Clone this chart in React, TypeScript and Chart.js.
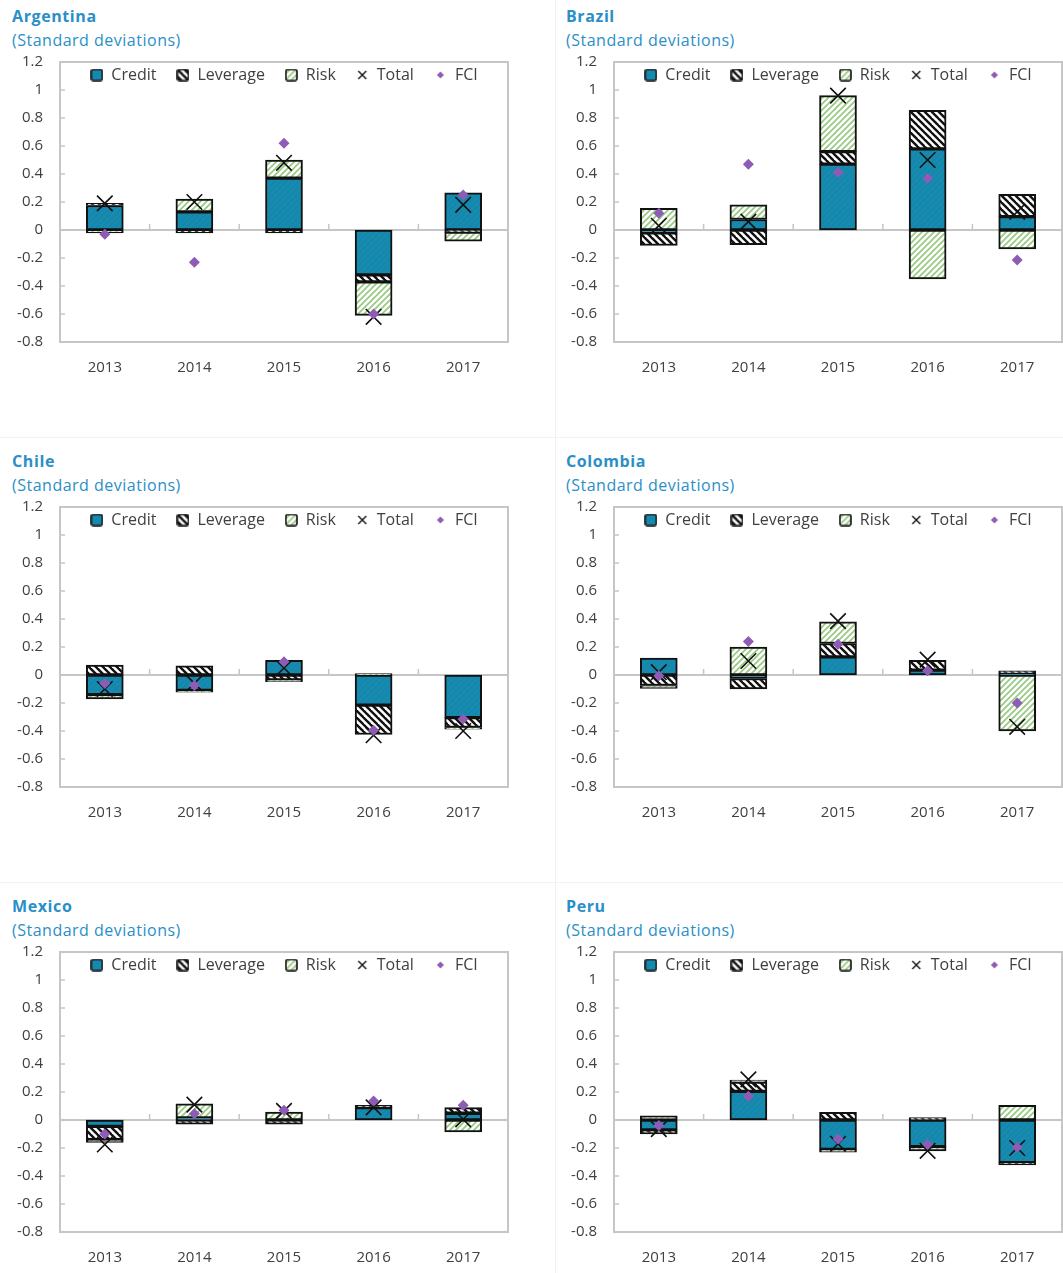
import React, { useEffect, useRef } from "react";
import { Chart, registerables } from "chart.js";

Chart.register(...registerables);

const years = ["2013", "2014", "2015", "2016", "2017"];
const yTicks = [1.2, 1, 0.8, 0.6, 0.4, 0.2, 0, -0.2, -0.4, -0.6, -0.8];
const seriesNames = ["Credit", "Leverage", "Risk", "Total", "FCI"];

const argentinaCredit = [0.175, 0.13, 0.37, -0.32, 0.265];
const argentinaLeverage = [0.015, -0.02, -0.02, -0.05, -0.015];
const argentinaRisk = [-0.02, 0.09, 0.13, -0.24, -0.065];
const argentinaTotal = [0.19, 0.2, 0.48, -0.62, 0.18];
const argentinaFci = [-0.03, -0.23, 0.62, -0.6, 0.25];

const brazilCredit = [-0.02, 0.075, 0.47, 0.58, 0.095];
const brazilLeverage = [-0.09, -0.105, 0.09, 0.275, 0.16];
const brazilRisk = [0.155, 0.105, 0.4, -0.35, -0.135];
const brazilTotal = [0.03, 0.06, 0.96, 0.5, 0.13];
const brazilFci = [0.12, 0.47, 0.41, 0.37, -0.215];

const chileCredit = [-0.14, -0.11, 0.105, -0.215, -0.305];
const chileLeverage = [0.07, 0.065, -0.035, -0.21, -0.07];
const chileRisk = [-0.03, -0.012, -0.013, 0.01, -0.012];
const chileTotal = [-0.1, -0.06, 0.05, -0.43, -0.4];
const chileFci = [-0.06, -0.075, 0.095, -0.395, -0.315];

const colombiaCredit = [0.12, -0.025, 0.13, 0.035, 0.01];
const colombiaLeverage = [-0.075, -0.075, 0.095, 0.07, 0.02];
const colombiaRisk = [-0.02, 0.2, 0.155, 0.0, -0.4];
const colombiaTotal = [0.02, 0.1, 0.385, 0.11, -0.37];
const colombiaFci = [-0.005, 0.24, 0.22, 0.03, -0.2];

const mexicoCredit = [-0.045, 0.015, 0.0, 0.088, 0.048];
const mexicoLeverage = [-0.095, -0.03, -0.03, 0.017, 0.04];
const mexicoRisk = [-0.02, 0.1, 0.057, 0.0, -0.085];
const mexicoTotal = [-0.175, 0.11, 0.065, 0.09, 0.005];
const mexicoFci = [-0.1, 0.045, 0.07, 0.135, 0.105];

const peruCredit = [-0.07, 0.205, -0.21, -0.19, -0.305];
const peruLeverage = [-0.03, 0.065, 0.055, 0.017, -0.015];
const peruRisk = [0.03, 0.015, -0.02, -0.03, 0.105];
const peruTotal = [-0.065, 0.29, -0.17, -0.22, -0.2];
const peruFci = [-0.04, 0.17, -0.135, -0.175, -0.195];

const TEAL = "#168BAF";
const PURPLE = "#8E5CB4";
const GREEN = "#95C97E";
const TITLE_BLUE = "#2A8FC8";
const TEXT = "#404040";
const FRAME = "#C6C6C6";
const FONT = "'Open Sans', 'Noto Sans', sans-serif";
const LEGEND_PAD = 20;
const LEGEND_FONT = 16;

function makeCanvas(w: number, h: number) {
  const c = document.createElement("canvas");
  c.width = w;
  c.height = h;
  return c;
}

function creditPattern(ctx: CanvasRenderingContext2D) {
  const s = 6;
  const c = makeCanvas(s, s);
  const g = c.getContext("2d")!;
  g.fillStyle = TEAL;
  g.fillRect(0, 0, s, s);
  g.strokeStyle = "#1482A4";
  g.lineWidth = 1;
  for (let k = -1; k <= 1; k++) {
    g.beginPath();
    g.moveTo(k * s - 1, s + 1);
    g.lineTo(k * s + s + 1, -1);
    g.stroke();
  }
  return ctx.createPattern(c, "repeat")!;
}

function leveragePattern(ctx: CanvasRenderingContext2D) {
  const s = 7;
  const c = makeCanvas(s, s);
  const g = c.getContext("2d")!;
  g.fillStyle = "#ffffff";
  g.fillRect(0, 0, s, s);
  g.strokeStyle = "#111111";
  g.lineWidth = 2.4;
  for (let k = -1; k <= 1; k++) {
    g.beginPath();
    g.moveTo(k * s - 1, -1);
    g.lineTo(k * s + s + 1, s + 1);
    g.stroke();
  }
  return ctx.createPattern(c, "repeat")!;
}

function riskPattern(ctx: CanvasRenderingContext2D) {
  const s = 6;
  const c = makeCanvas(s, s);
  const g = c.getContext("2d")!;
  g.fillStyle = "#ffffff";
  g.fillRect(0, 0, s, s);
  g.strokeStyle = GREEN;
  g.lineWidth = 1.6;
  for (let k = -1; k <= 1; k++) {
    g.beginPath();
    g.moveTo(k * s - 1, s + 1);
    g.lineTo(k * s + s + 1, -1);
    g.stroke();
  }
  return ctx.createPattern(c, "repeat")!;
}

function boxIcon(fill: (g: CanvasRenderingContext2D) => CanvasPattern) {
  const c = makeCanvas(13, 13);
  const g = c.getContext("2d")!;
  g.fillStyle = fill(g);
  g.beginPath();
  g.roundRect(1, 1, 11, 11, 2);
  g.fill();
  g.strokeStyle = "#111";
  g.lineWidth = 1.6;
  g.stroke();
  return c;
}

function crossIcon() {
  const c = makeCanvas(12, 12);
  const g = c.getContext("2d")!;
  g.strokeStyle = "#111";
  g.lineWidth = 1.4;
  g.beginPath();
  g.moveTo(2, 2);
  g.lineTo(10, 10);
  g.moveTo(10, 2);
  g.lineTo(2, 10);
  g.stroke();
  return c;
}

function diamondIcon() {
  const c = makeCanvas(12, 12);
  const g = c.getContext("2d")!;
  g.fillStyle = PURPLE;
  g.beginPath();
  g.moveTo(6, 2.5);
  g.lineTo(9.5, 6);
  g.lineTo(6, 9.5);
  g.lineTo(2.5, 6);
  g.closePath();
  g.fill();
  return c;
}

const framePlugin = {
  id: "frameTicks",
  beforeLayout(chart: any) {
    const lg = chart.legend;
    if (lg) lg.isHorizontal = () => true;
  },
  afterLayout(chart: any) {
    const lg = chart.legend;
    const a = chart.chartArea;
    if (lg) {
      lg.left = a.left;
      lg.right = a.right;
      lg.width = a.width;
      lg.top = a.top + 13 - (LEGEND_PAD + LEGEND_FONT / 2);
      lg.bottom = lg.top + lg.height;
    }
  },
  beforeDatasetsDraw(chart: any) {
    const { ctx, chartArea: a, scales } = chart;
    const y = scales.y;
    const x = scales.x;
    const z = y.getPixelForValue(0);
    ctx.save();
    ctx.strokeStyle = FRAME;
    ctx.lineWidth = 2;
    ctx.beginPath();
    ctx.moveTo(a.left, z);
    ctx.lineTo(a.right, z);
    ctx.stroke();
    ctx.lineWidth = 1.5;
    ctx.beginPath();
    y.ticks.forEach((_t: any, i: number) => {
      const p = y.getPixelForTick(i);
      ctx.moveTo(a.left, p);
      ctx.lineTo(a.left + 5, p);
    });
    for (let i = 0; i < years.length - 1; i++) {
      const p = (x.getPixelForValue(i) + x.getPixelForValue(i + 1)) / 2;
      ctx.moveTo(p, z);
      ctx.lineTo(p, z - 6);
    }
    ctx.stroke();
    ctx.lineWidth = 2;
    ctx.strokeRect(a.left, a.top, a.width, a.height);
    ctx.restore();
  },
};

const nz = (arr: number[]) => arr.map((v) => (v === 0 ? null : v));

type PanelProps = {
  title: string;
  left: number;
  top: number;
  credit: number[];
  leverage: number[];
  risk: number[];
  total: number[];
  fci: number[];
};

function Panel({ title, left, top, credit, leverage, risk, total, fci }: PanelProps) {
  const ref = useRef<HTMLCanvasElement>(null);
  useEffect(() => {
    const canvas = ref.current!;
    const ctx = canvas.getContext("2d")!;
    const icons = [
      boxIcon(creditPattern),
      boxIcon(leveragePattern),
      boxIcon(riskPattern),
      crossIcon(),
      diamondIcon(),
    ];
    const barCommon = {
      type: "bar" as const,
      borderColor: "#111111",
      borderWidth: 2,
      borderSkipped: false,
      barThickness: 37,
      stack: "bars",
      order: 1,
    };
    const chart = new Chart(ctx, {
      type: "bar",
      data: {
        labels: years,
        datasets: [
          { ...barCommon, label: seriesNames[0], data: nz(credit), backgroundColor: creditPattern(ctx) },
          { ...barCommon, label: seriesNames[1], data: nz(leverage), backgroundColor: leveragePattern(ctx) },
          { ...barCommon, label: seriesNames[2], data: nz(risk), backgroundColor: riskPattern(ctx) },
          {
            type: "line",
            label: seriesNames[3],
            data: total,
            stack: "total",
            order: 0,
            showLine: false,
            pointStyle: "crossRot",
            pointRadius: 11,
            pointBorderColor: "#111111",
            pointBorderWidth: 1.6,
            borderColor: "#111111",
            backgroundColor: "rgba(0,0,0,0)",
          },
          {
            type: "line",
            label: seriesNames[4],
            data: fci,
            stack: "fci",
            order: -1,
            showLine: false,
            pointStyle: "rectRot",
            pointRadius: 5.5,
            pointBorderWidth: 0,
            pointBackgroundColor: PURPLE,
            borderColor: PURPLE,
            backgroundColor: PURPLE,
          },
        ] as any,
      },
      options: {
        animation: false,
        responsive: false,
        events: [],
        layout: { padding: { top: 62, right: 22, bottom: 53, left: 0 } },
        plugins: {
          tooltip: { enabled: false },
          legend: {
            position: "chartArea" as any,
            align: "center",
            labels: {
              usePointStyle: true,
              boxWidth: 13,
              boxHeight: 13,
              padding: LEGEND_PAD,
              color: TEXT,
              font: { family: FONT, size: LEGEND_FONT },
              generateLabels: (ch: any) => {
                const items = Chart.defaults.plugins.legend.labels.generateLabels(ch);
                items.sort((a: any, b: any) => a.datasetIndex - b.datasetIndex);
                return items.map((it: any) => ({ ...it, pointStyle: icons[it.datasetIndex] }));
              },
            },
          },
        },
        scales: {
          x: {
            stacked: true,
            grid: { display: false, drawTicks: false },
            border: { display: false },
            ticks: { color: TEXT, font: { family: FONT, size: 15 }, padding: 17 },
            afterFit: (s: any) => {
              s.height = 50;
            },
          },
          y: {
            stacked: true,
            min: -0.8,
            max: 1.2,
            grid: { display: false, drawTicks: false },
            border: { display: false },
            afterBuildTicks: (s: any) => {
              s.ticks = yTicks.map((v) => ({ value: v }));
            },
            ticks: {
              color: TEXT,
              font: { family: FONT, size: 15 },
              padding: 17,
              callback: (v: any) => String(Number(Number(v).toFixed(1))),
            },
            afterFit: (s: any) => {
              s.width = 60;
            },
          },
        },
      },
      plugins: [framePlugin],
    });
    return () => chart.destroy();
  }, []);

  return (
    <div style={{ position: "absolute", left, top, width: 530, height: 445 }}>
      <div
        style={{
          position: "absolute",
          left: 12,
          top: 5,
          fontFamily: FONT,
          fontWeight: 700,
          fontSize: 16,
          color: TITLE_BLUE,
          whiteSpace: "nowrap",
          letterSpacing: 0.6,
        }}
      >
        {title}
      </div>
      <div
        style={{
          position: "absolute",
          left: 12,
          top: 29,
          fontFamily: FONT,
          fontSize: 16,
          color: TITLE_BLUE,
          whiteSpace: "nowrap",
          letterSpacing: 0.5,
        }}
      >
        (Standard deviations)
      </div>
      <canvas ref={ref} width={530} height={445} style={{ position: "absolute", left: 0, top: 0 }} />
    </div>
  );
}

export default function App() {
  const colX = [0, 554];
  const rowY = [0, 445, 890];
  return (
    <div
      style={{
        position: "fixed",
        left: 0,
        top: 0,
        width: 1063,
        height: 1273,
        overflow: "hidden",
        background: "#ffffff",
      }}
    >
      <div style={{ position: "absolute", left: 555, top: 0, width: 1, height: 1273, background: "#F0F0F0" }} />
      <div style={{ position: "absolute", left: 0, top: 437, width: 1063, height: 1, background: "#F2F2F2" }} />
      <div style={{ position: "absolute", left: 0, top: 882, width: 1063, height: 1, background: "#F2F2F2" }} />
      <Panel title="Argentina" left={colX[0]} top={rowY[0]} credit={argentinaCredit} leverage={argentinaLeverage} risk={argentinaRisk} total={argentinaTotal} fci={argentinaFci} />
      <Panel title="Brazil" left={colX[1]} top={rowY[0]} credit={brazilCredit} leverage={brazilLeverage} risk={brazilRisk} total={brazilTotal} fci={brazilFci} />
      <Panel title="Chile" left={colX[0]} top={rowY[1]} credit={chileCredit} leverage={chileLeverage} risk={chileRisk} total={chileTotal} fci={chileFci} />
      <Panel title="Colombia" left={colX[1]} top={rowY[1]} credit={colombiaCredit} leverage={colombiaLeverage} risk={colombiaRisk} total={colombiaTotal} fci={colombiaFci} />
      <Panel title="Mexico" left={colX[0]} top={rowY[2]} credit={mexicoCredit} leverage={mexicoLeverage} risk={mexicoRisk} total={mexicoTotal} fci={mexicoFci} />
      <Panel title="Peru" left={colX[1]} top={rowY[2]} credit={peruCredit} leverage={peruLeverage} risk={peruRisk} total={peruTotal} fci={peruFci} />
    </div>
  );
}
